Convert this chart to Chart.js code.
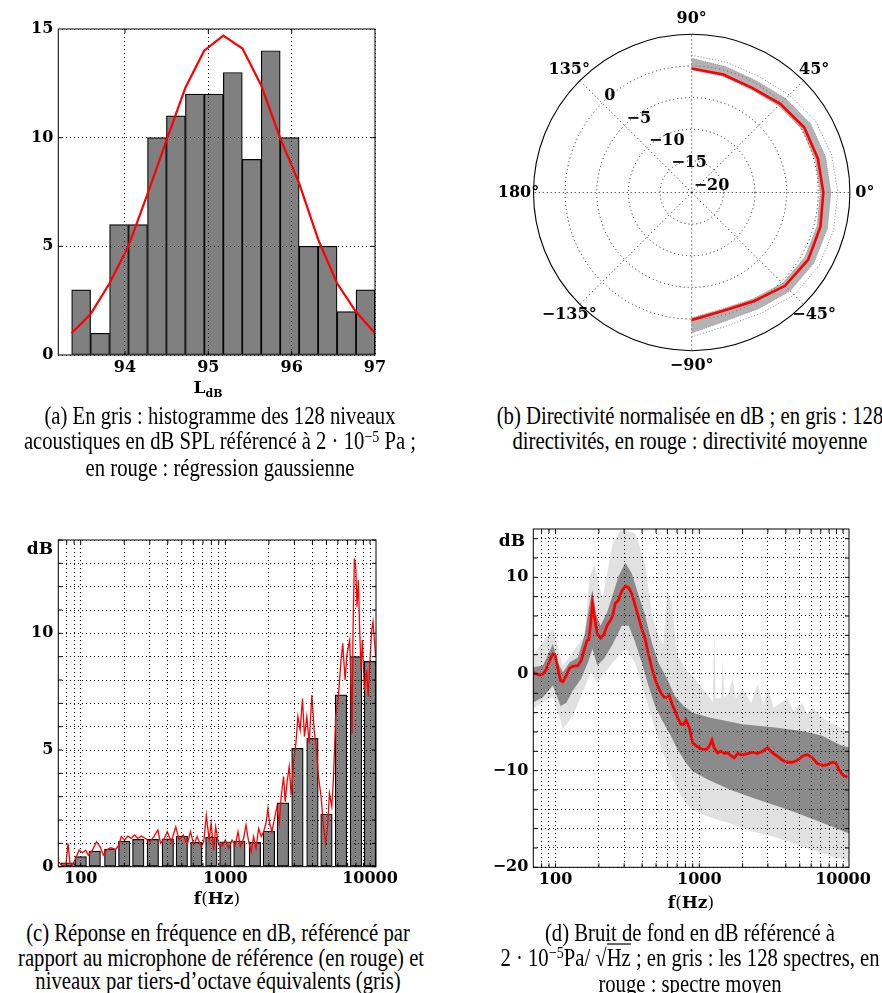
<!DOCTYPE html>
<html><head><meta charset="utf-8">
<script src="https://cdn.jsdelivr.net/npm/chart.js@4.4.1/dist/chart.umd.min.js"></script>
<style>
body{margin:0;width:882px;height:993px;background:#fff;position:relative;overflow:hidden;}
.cv{position:absolute;}
.cap{position:absolute;font-family:"Liberation Serif",serif;font-size:20.7px;text-align:center;transform:scaleY(1.18);transform-origin:50% 0;white-space:nowrap;color:#000;}
.ax{position:absolute;font-family:"DejaVu Serif",serif;font-weight:bold;font-size:17px;transform:translate(-50%,-50%);white-space:nowrap;color:#000;}
.sp{position:relative;top:-0.45em;font-size:0.68em;}
.ov{border-top:1px solid #000;}
</style></head>
<body>
<canvas id="ca" class="cv" style="left:0;top:0" width="400" height="380"></canvas>
<canvas id="cb" class="cv" style="left:480px;top:0" width="400" height="390"></canvas>
<canvas id="cc" class="cv" style="left:0;top:500px" width="400" height="395"></canvas>
<canvas id="cd" class="cv" style="left:480px;top:500px" width="400" height="395"></canvas>

<div class="ax" style="left:208px;top:387px">L<span style="font-size:11px;position:relative;top:4px">dB</span></div>
<div class="ax" style="left:40px;top:548px">dB</div>
<div class="ax" style="left:512px;top:540px">dB</div>
<div class="ax" style="left:217px;top:898px">f<span style="font-weight:normal">(</span>Hz<span style="font-weight:normal">)</span></div>
<div class="ax" style="left:691px;top:902px">f<span style="font-weight:normal">(</span>Hz<span style="font-weight:normal">)</span></div>

<div class="cap" style="left:20px;width:400px;top:403.5px;line-height:21.2px">(a) En gris : histogramme des 128 niveaux<br>acoustiques en dB SPL référencé à 2 · 10<span class="sp">−5</span> Pa ;<br>en rouge : régression gaussienne</div>
<div class="cap" style="left:490px;width:400px;top:403.5px;line-height:21.2px">(b) Directivité normalisée en dB ; en gris : 128<br>directivités, en rouge : directivité moyenne</div>
<div class="cap" style="left:18px;width:400px;top:921px;line-height:20.5px">(c) Réponse en fréquence en dB, référencé par<br>rapport au microphone de référence (en rouge) et<br>niveaux par tiers-d’octave équivalents (gris)</div>
<div class="cap" style="left:490px;width:400px;top:921px;line-height:20.5px">(d) Bruit de fond en dB référencé à<br>2 · 10<span class="sp">−5</span>Pa/ √<span class="ov">Hz</span> ; en gris : les 128 spectres, en<br>rouge : spectre moyen</div>

<script>
// ---------- (a) histogram ----------
const histCenters = [93.474, 93.701, 93.929, 94.156, 94.384, 94.611, 94.839, 95.066, 95.294, 95.521, 95.749, 95.976, 96.204, 96.431, 96.659, 96.886];
const histCounts  = [3, 1, 6, 6, 10, 11, 12, 12, 13, 9, 14, 10, 5, 5, 2, 3];
const gaussX = [93.36, 93.59, 93.815, 94.04, 94.27, 94.50, 94.725, 94.95, 95.18, 95.41, 95.635, 95.86, 96.09, 96.32, 96.545, 96.77, 97.0];
const gaussY = [1.0, 1.9, 3.3, 5.0, 7.4, 9.9, 12.3, 14.0, 14.7, 14.1, 12.4, 10.0, 7.9, 5.3, 3.3, 2.0, 1.0];
const histTicksX = [94, 95, 96, 97];
const histTicksY = [0, 5, 10, 15];

// ---------- (b) polar directivity ----------
const polarAngles = [90, 75, 60, 45, 30, 15, 0, -15, -30, -45, -60, -75, -90];
const polarMean   = [-0.4, -0.7, -0.9, -0.2, 0.55, 0.65, 0.8, 1.05, 1.25, 0.85, -0.2, -0.65, 0.15];
const polarUpper  = [1.2, 0.6, 0.4, 1.0, 1.7, 1.9, 2.0, 2.2, 2.3, 2.0, 1.2, 1.0, 2.2];
const polarLower  = [-0.6, -1.0, -1.2, -0.6, 0.1, 0.2, 0.3, 0.5, 0.6, 0.3, -0.6, -1.0, -0.2];
const polarOuter  = [1.7, 1.3, 1.2, 1.8, 2.6, 2.9, 3.1, 3.2, 3.2, 2.9, 2.0, 1.8, 2.8];
const polarRings = [-15, -10, -5, 0];
const polarRingLabels = [0, -5, -10, -15, -20];
const polarSpokes = [0, 45, 90, 135, 180, 225, 270, 315];
const polarAngleLabels = [0, 45, 90, 135, 180, -135, -90, -45];
const polarCenterDb = -20, polarEdgeDb = 5;

// ---------- (c) frequency response ----------
const bandF = [80, 100, 125, 160, 200, 250, 315, 400, 500, 630, 800, 1000, 1250, 1600, 2000, 2500, 3150, 4000, 5000, 6300, 8000, 10000];
const bandV = [0.17, 0.43, 0.67, 0.76, 1.1, 1.17, 1.17, 1.19, 1.31, 1.04, 1.27, 1.07, 1.1, 1.04, 1.53, 2.74, 5.07, 5.5, 2.26, 7.36, 9.0, 8.8];
const respF = [70.8, 74.8, 78.9, 81.7, 84.3, 87.6, 92.4, 97.4, 102.7, 108.3,
  112.9, 120.3, 128.8, 135.9, 143.4, 152.8, 161.1, 174.3, 183.8, 190.8,
  201.1, 212, 223.8, 235.6, 248.5, 262.2, 280.8, 300.6, 320.6, 341.4,
  356.5, 375.8, 396.3, 422.6, 454.3, 479.7, 510.9, 544.1, 573.8, 605.1,
  638.3, 679.8, 708.7, 739.1, 772.3, 796.9, 830.1, 857.4, 899.5, 948.3,
  1000, 1054, 1112, 1172, 1223, 1269, 1337, 1389, 1449, 1511,
  1567, 1629, 1698, 1771, 1837, 1909, 1969, 2022, 2099, 2189,
  2274, 2358, 2432, 2525, 2593, 2663, 2763, 2851, 2961, 3074,
  3173, 3289, 3413, 3523, 3658, 3795, 3963, 4110, 4243, 4400,
  4592, 4766, 4945, 5106, 5241, 5440, 5587, 5797, 6043, 6304,
  6480, 6725, 6941, 7240, 7390, 7510, 7634, 7799, 7966, 8128,
  8303, 8485, 8665, 8850, 9140, 9488, 9730, 10000, 10270, 10490,
  10720, 10950];
const respV = [0.2, 0.0, 0.07, 1.0, 0.14, 0.07, 0.36, 0.71, 0.6, 0.71,
  0.5, 0.7, 1.07, 0.86, 0.5, 0.74, 0.81, 0.74, 0.93, 1.29,
  1.14, 1.31, 1.21, 1.36, 1.21, 1.31, 1.21, 1.07, 1.29, 1.57,
  1.0, 1.17, 1.5, 1.07, 1.71, 1.14, 1.36, 0.93, 1.5, 0.93,
  1.29, 0.86, 1.07, 2.21, 1.14, 1.86, 0.71, 1.71, 0.93, 0.89,
  1.14, 0.79, 1.14, 0.93, 1.5, 0.86, 1.21, 1.79, 1.07, 0.64,
  1.29, 0.79, 1.64, 1.29, 1.5, 1.86, 2.5, 1.86, 1.5, 2.07,
  2.57, 1.86, 3.0, 3.86, 2.79, 3.57, 4.29, 3.07, 4.43, 5.29,
  6.43, 5.86, 7.21, 5.57, 6.43, 5.29, 7.36, 5.86, 5.14, 3.86,
  3.0, 1.71, 1.0, 1.86, 3.14, 2.57, 3.79, 6.43, 7.29, 8.86,
  9.57, 8.0, 9.14, 9.71, 7.7, 5.71, 10.14, 13.21, 12.86, 11.14,
  12.29, 10.14, 8.43, 9.71, 7.57, 8.43, 7.29, 8.86, 10.14, 10.5,
  9.71, 9.0];
const freqGrid = [80, 90, 100, 200, 300, 400, 500, 600, 700, 800, 900, 1000, 2000, 3000, 4000, 5000, 6000, 7000, 8000, 9000, 10000];
const freqLabels = [100, 1000, 10000];
const cTicksY = [0, 1, 2, 3, 4, 5, 6, 7, 8, 9, 10, 11, 12, 13, 14];
const cLabelsY = [0, 5, 10];

// ---------- (d) background noise ----------
const noiseF = [69.5, 77.4, 81.7, 86.1, 90.8, 95.8, 99.5, 103.8, 108.3, 112.4,
  118.6, 125.1, 132, 142.9, 150.7, 158.9, 165.9, 170.3, 175, 180.6,
  186.6, 194.8, 205.5, 216.4, 228.4, 241, 250, 259.9, 274, 288.7,
  306.2, 322.9, 338.8, 357.5, 376.9, 397.5, 419.5, 442.3, 466.4, 492.3,
  518.8, 547, 571.4, 596.8, 619.4, 646.2, 677.4, 706.5, 745.7, 777.6,
  808.3, 852.6, 899.6, 973, 1054, 1124, 1173, 1224, 1270, 1340,
  1415, 1492, 1574, 1660, 1751, 1847, 2000, 2165, 2344, 2540,
  2752, 2980, 3228, 3497, 3788, 4104, 4445, 4815, 5216, 5650,
  6120, 6630, 7182, 7780, 8428, 8900, 9380, 9890, 10710];
const noiseV = [0.17, -0.1, 0, 0.45, 1.39, 2.08, 1.9, 0.52, -0.69, -0.8,
  -0.17, 0.59, 0.8, 0.87, 1.39, 2.6, 3.47, 3.54, 5.03, 7.29,
  5.9, 4.17, 3.72, 4.06, 5.03, 5.56, 6.08, 7.29, 7.64, 8.58,
  9.1, 8.92, 8.33, 7.12, 5.9, 4.69, 3.65, 2.08, 0.69, -0.52,
  -1.39, -2.08, -2.43, -2.43, -2.26, -3.13, -3.82, -4.51, -5.21, -5.21,
  -4.76, -5.56, -7.12, -7.53, -7.81, -7.81, -7.47, -6.84, -7.64, -8.16,
  -7.99, -8.23, -8.16, -8.44, -8.68, -8.23, -8.37, -8.23, -8.09, -8.23,
  -7.99, -7.64, -8.16, -8.51, -8.92, -9.13, -9.13, -8.92, -8.51, -8.33,
  -8.68, -9.27, -9.48, -9.38, -9.13, -9.2, -9.9, -10.42, -10.69];
const denseUpF = [69.5, 81.7, 95.8, 103.8, 112.4, 125.1, 142.9, 158.9, 175, 180.6,
  192, 205.5, 228.4, 250, 274, 306, 339, 377, 419.5, 466,
  519, 597, 677, 778, 900, 1173, 2000, 3228, 5216, 7182, 9380, 11000];
const denseUpV = [0.69, 0.87, 3.1, 1.2, 0.17, 1.2, 1.7, 4.0, 7.8, 8.7,
  6.1, 5.0, 6.4, 8.2, 10.1, 11.5, 10.4, 8.2, 6.1, 3.3,
  1.2, -0.5, -2.3, -3.3, -4.0, -4.5, -5.2, -5.5, -5.9, -6.4, -7.3, -7.6];
const denseLoF = [69.5, 81.7, 95.8, 108.3, 118.6, 132, 150.7, 168, 180.6, 194.8,
  218, 250, 288.7, 322.9, 357.5, 397.5, 442, 492, 547, 619,
  706, 808, 900, 1173, 1660, 2344, 3228, 4445, 6120, 8428, 11000];
const denseLoV = [-2.95, -2.4, -1.2, -3.3, -3.0, -1.7, -0.5, 1.2, 2.6, 0.87,
  1.6, 3.1, 5.0, 5.0, 3.3, 1.2, -1.2, -3.3, -4.7, -6.1,
  -7.8, -9.2, -10.1, -11.0, -12.0, -12.8, -13.5, -14.2, -15.0, -15.8, -16.5];
const faintUpF = [69.5, 95.8, 112.4, 137, 160, 172, 186, 212, 250, 280,
  306, 357.5, 380, 420, 470, 520, 560, 600, 640, 700,
  800, 900, 1050, 1200, 1240, 1270, 1300, 1420, 1450, 1500,
  1600, 1700, 1800, 2000, 2300, 2540, 2800, 3000, 3300, 4104,
  4500, 5216, 5600, 6200, 7182, 8000, 9380, 11000];
const faintUpV = [1.9, 4.7, 0.87, 2.6, 4.0, 10.0, 11.3, 7.8, 13.5, 14.8,
  14.9, 14.5, 13.5, 11.3, 6.0, 4.0, 3.0, 8.5, 7.6, 2.0,
  0.5, -0.2, -1.5, -2.5, -3.0, 4.5, -2.5, -2.5, 1.5, -2.5,
  -2.0, -0.5, -2.5, -1.5, -3.0, -1.0, -3.2, -1.5, -3.5, -2.5,
  -3.8, -3.0, -4.2, -3.5, -4.5, -5.0, -5.5, -6.2];
const faintLoF = [69.5, 95.8, 112.4, 132, 150.7, 175, 195, 250, 306, 357.5,
  419.5, 492, 547, 620, 706, 808, 900, 1173, 1660, 2344,
  3228, 4445, 6120, 8428, 11000];
const faintLoV = [-3.6, -2.3, -5.7, -4.3, -2.3, 0.2, -0.9, 1.2, 2.6, 1.2,
  -2.3, -5.7, -7.8, -9.9, -12, -13.4, -14.1, -14.8, -15.5, -16.3,
  -16.8, -17.5, -18.2, -18.9, -19.4];
const dTicksY = [-20, -18, -16, -14, -12, -10, -8, -6, -4, -2, 0, 2, 4, 6, 8, 10, 12, 14];
const dLabelsY = [-20, -10, 0, 10];

// ---------- helpers ----------
const SERIF = '"DejaVu Serif", serif';
const tickFont = {family: SERIF, size: 16, weight: 'bold'};
const fmt = v => (v < 0 ? '\u2212' + Math.abs(v) : String(v));
const pts = (xs, ys) => xs.map((x, i) => ({x, y: ys[i]}));
const fixX = h => s => { s.height = h; s.paddingLeft = s.paddingRight = s.paddingTop = s.paddingBottom = 0; };
const fixY = w => s => { s.width = w; s.paddingLeft = s.paddingRight = s.paddingTop = s.paddingBottom = 0; };
const setTicks = list => s => { s.ticks = list.map(v => ({value: v})); };
const gridTop = {color: '#000', lineWidth: 1, z: 1, drawTicks: false, offset: false};
const dotBorder = {display: false, dash: [1, 3]};
const RED = '#ff0000', GRAY = '#808080';

function makeBox(xt, yt) {
  return {
    id: 'box',
    afterDraw(chart) {
      const {ctx, chartArea: a, scales} = chart;
      ctx.save();
      ctx.strokeStyle = '#000'; ctx.lineWidth = 1; ctx.setLineDash([]);
      const L = 4;
      ctx.beginPath();
      xt.forEach(v => { const p = scales.x.getPixelForValue(v);
        ctx.moveTo(p, a.bottom); ctx.lineTo(p, a.bottom - L);
        ctx.moveTo(p, a.top); ctx.lineTo(p, a.top + L); });
      yt.forEach(v => { const p = scales.y.getPixelForValue(v);
        ctx.moveTo(a.left, p); ctx.lineTo(a.left + L, p);
        ctx.moveTo(a.right, p); ctx.lineTo(a.right - L, p); });
      ctx.stroke();
      ctx.strokeRect(a.left, a.top, a.right - a.left, a.bottom - a.top);
      ctx.restore();
    }
  };
}
const common = {responsive: false, animation: false, events: [],
  plugins: {legend: {display: false}, tooltip: {enabled: false}}};

// ---------- chart (a) ----------
new Chart(document.getElementById('ca'), {
  type: 'bar',
  data: {datasets: [
    {type: 'line', data: pts(gaussX, gaussY), borderColor: RED, borderWidth: 2.2, pointRadius: 0, order: 0},
    {type: 'bar', data: pts(histCenters, histCounts), backgroundColor: GRAY, borderColor: '#000',
     borderWidth: 1.2, borderSkipped: false, barPercentage: 1, categoryPercentage: 1, order: 1}
  ]},
  options: Object.assign({}, common, {
    layout: {padding: {left: 0, top: 29, right: 25, bottom: 0}},
    scales: {
      x: {type: 'linear', min: 93.2, max: 97, offset: false, grid: gridTop, border: dotBorder,
          afterBuildTicks: setTicks(histTicksX), afterFit: fixX(25),
          ticks: {font: tickFont, color: '#000', padding: 3, maxRotation: 0, autoSkip: false, callback: v => fmt(v)}},
      y: {type: 'linear', min: 0, max: 15, grid: gridTop, border: dotBorder,
          afterBuildTicks: setTicks(histTicksY), afterFit: fixY(58.3),
          ticks: {font: tickFont, color: '#000', padding: 5, callback: v => fmt(v)}}
    }
  }),
  plugins: [makeBox([94, 95, 96], [5, 10])]
});

// ---------- chart (b) ----------
const toXY = (angles, vals) => angles.map((a, i) => {
  const r = vals[i] - polarCenterDb, t = a * Math.PI / 180;
  return {x: r * Math.cos(t), y: r * Math.sin(t)};
});
const polarGrid = {
  id: 'polarGrid',
  beforeDatasetsDraw(chart) {
    const {ctx, scales: {x, y}} = chart;
    const cx = x.getPixelForValue(0), cy = y.getPixelForValue(0);
    const rp = db => x.getPixelForValue(db - polarCenterDb) - cx;
    const R = rp(polarEdgeDb);
    ctx.save();
    ctx.strokeStyle = '#000'; ctx.lineWidth = 0.9; ctx.setLineDash([1, 3]);
    polarRings.forEach(db => { ctx.beginPath(); ctx.arc(cx, cy, rp(db), 0, 2 * Math.PI); ctx.stroke(); });
    polarSpokes.forEach(a => { const t = a * Math.PI / 180;
      ctx.beginPath(); ctx.moveTo(cx, cy); ctx.lineTo(cx + R * Math.cos(t), cy - R * Math.sin(t)); ctx.stroke(); });
    ctx.setLineDash([]); ctx.lineWidth = 1.1;
    ctx.beginPath(); ctx.arc(cx, cy, R, 0, 2 * Math.PI); ctx.stroke();
    ctx.fillStyle = '#000';
    ctx.font = 'bold 16px ' + SERIF;
    ctx.textAlign = 'center'; ctx.textBaseline = 'middle';
    polarAngleLabels.forEach(a => { const t = a * Math.PI / 180;
      ctx.fillText(fmt(a) + '°', cx + (R + 15) * Math.cos(t), cy - (R + 15) * Math.sin(t)); });
    ctx.textAlign = 'left';
    const t135 = 135 * Math.PI / 180;
    polarRingLabels.forEach(db => { const r = rp(db);
      ctx.fillText(fmt(db), cx + r * Math.cos(t135) + 2, cy - r * Math.sin(t135) - 7); });
    ctx.restore();
  }
};
new Chart(document.getElementById('cb'), {
  type: 'scatter',
  data: {datasets: [
    {type: 'line', data: toXY(polarAngles, polarMean), borderColor: RED, borderWidth: 2.6, pointRadius: 0, fill: false, order: 0},
    {type: 'line', data: toXY(polarAngles, polarUpper).concat(toXY(polarAngles, polarLower).reverse()),
     borderColor: 'rgba(128,128,128,0.8)', borderWidth: 0.8, borderDash: [1, 1], backgroundColor: 'rgba(128,128,128,0.6)', pointRadius: 0, fill: 'shape', order: 1},
    {type: 'line', data: toXY(polarAngles, polarOuter), borderColor: GRAY, borderWidth: 1, borderDash: [1, 2], pointRadius: 0, fill: false, order: 2}
  ]},
  options: Object.assign({}, common, {
    layout: {padding: {left: 53.5, top: 34.3, right: 30.1, bottom: 39.3}},
    scales: {
      x: {type: 'linear', min: polarCenterDb - polarEdgeDb, max: polarEdgeDb - polarCenterDb, display: false},
      y: {type: 'linear', min: polarCenterDb - polarEdgeDb, max: polarEdgeDb - polarCenterDb, display: false}
    }
  }),
  plugins: [polarGrid]
});

// ---------- chart (c) ----------
const freqTicks = {font: tickFont, color: '#000', padding: 3, maxRotation: 0, autoSkip: false,
  callback: v => (freqLabels.includes(v) ? String(v) : '')};
new Chart(document.getElementById('cc'), {
  type: 'bar',
  data: {datasets: [
    {type: 'line', data: pts(respF, respV), borderColor: RED, borderWidth: 1.3, pointRadius: 0, order: 0},
    {type: 'bar', data: pts(bandF, bandV), backgroundColor: GRAY, borderColor: '#000',
     borderWidth: 1.2, borderSkipped: false, barThickness: 11.5, order: 1}
  ]},
  options: Object.assign({}, common, {
    layout: {padding: {left: 0, top: 40, right: 24, bottom: 0}},
    scales: {
      x: {type: 'logarithmic', min: 70, max: 11000, offset: false, grid: gridTop, border: dotBorder,
          afterBuildTicks: setTicks(freqGrid), afterFit: fixX(28.3), ticks: freqTicks},
      y: {type: 'linear', min: 0, max: 14, grid: gridTop, border: dotBorder,
          afterBuildTicks: setTicks(cTicksY), afterFit: fixY(58.3),
          ticks: {font: tickFont, color: '#000', padding: 5, autoSkip: false,
                  callback: v => (cLabelsY.includes(v) ? fmt(v) : '')}}
    }
  }),
  plugins: [makeBox(freqGrid, cTicksY)]
});

// ---------- chart (d) ----------
new Chart(document.getElementById('cd'), {
  type: 'scatter',
  data: {datasets: [
    {type: 'line', data: pts(noiseF, noiseV), borderColor: RED, borderWidth: 2.8, pointRadius: 0, fill: false, order: 0},
    {type: 'line', data: pts(denseUpF, denseUpV).concat(pts(denseLoF, denseLoV).reverse()),
     borderWidth: 0, backgroundColor: 'rgba(128,128,128,0.88)', pointRadius: 0, fill: 'shape', order: 1},
    {type: 'line', data: pts(faintUpF, faintUpV).concat(pts(faintLoF, faintLoV).reverse()),
     borderWidth: 0, backgroundColor: 'rgba(128,128,128,0.24)', pointRadius: 0, fill: 'shape', order: 2}
  ]},
  options: Object.assign({}, common, {
    layout: {padding: {left: 0, top: 29, right: 31, bottom: 0}},
    scales: {
      x: {type: 'logarithmic', min: 70, max: 11000, offset: false, grid: gridTop, border: dotBorder,
          afterBuildTicks: setTicks(freqGrid), afterFit: fixX(27.7), ticks: freqTicks},
      y: {type: 'linear', min: -20, max: 15, grid: gridTop, border: dotBorder,
          afterBuildTicks: setTicks(dTicksY), afterFit: fixY(53.3),
          ticks: {font: tickFont, color: '#000', padding: 5, autoSkip: false,
                  callback: v => (dLabelsY.includes(v) ? fmt(v) : '')}}
    }
  }),
  plugins: [makeBox(freqGrid, dTicksY)]
});
</script>
</body></html>
